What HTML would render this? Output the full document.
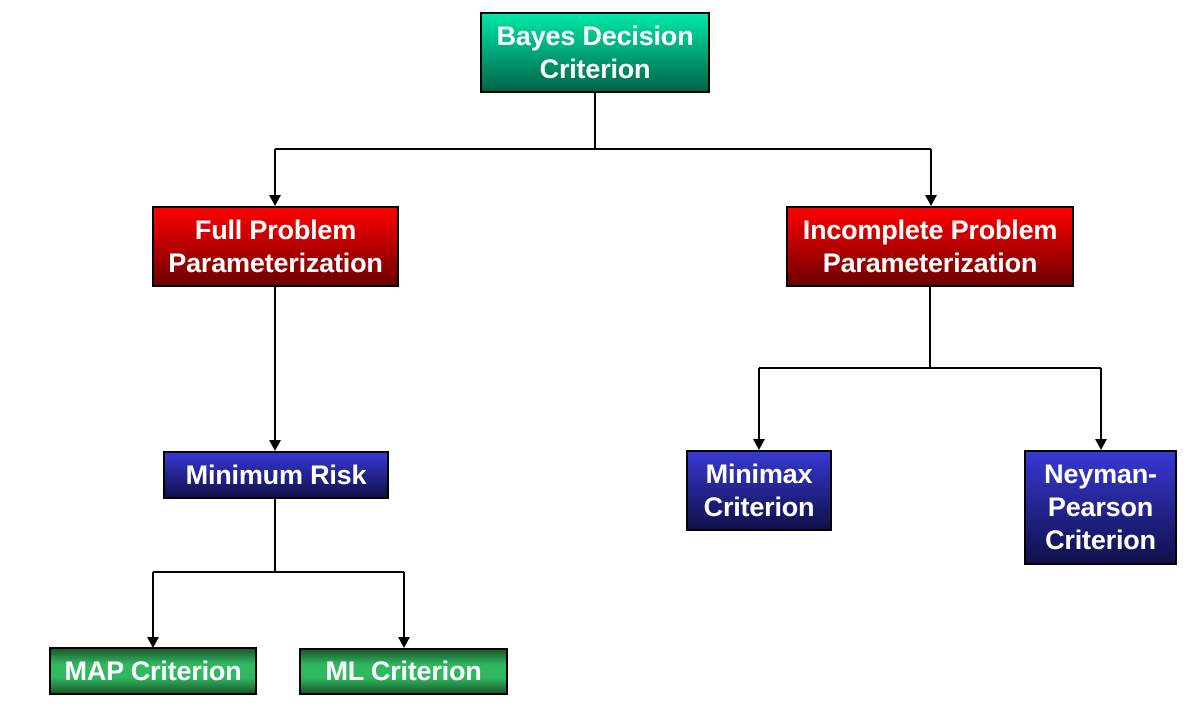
<!DOCTYPE html>
<html><head><style>
body{margin:0;width:1196px;height:707px;background:#fff;position:relative;overflow:hidden;font-family:"Liberation Sans",Arial,sans-serif;}
.b{position:absolute;box-sizing:border-box;border:2px solid #000;color:#fff;font-weight:bold;font-size:27px;line-height:33px;display:flex;align-items:center;justify-content:center;text-align:center;letter-spacing:-0.2px;white-space:nowrap;}
.t{background:linear-gradient(#00e8a8,#006448);}
.r{background:linear-gradient(#ff0000,#6e0000);}
.u{background:linear-gradient(#3838d4,#10104a);}
.g{background:linear-gradient(#1a5a2a,#30b860 35%,#30b860 65%,#1a5a2a);}
svg{position:absolute;left:0;top:0}
</style></head><body>
<svg width="1196" height="707">
<g stroke="#000" stroke-width="2" fill="none">
<path d="M595 92V149M275 149H931M275 149V196M931 149V196"/>
<path d="M275 286V441"/>
<path d="M930 286V368M759 368H1101M759 368V440M1101 368V440"/>
<path d="M275 498V572M153 572H404M153 572V638M404 572V638"/>
</g>
<g fill="#000">
<path d="M269 195h12l-6 11z"/><path d="M925 195h12l-6 11z"/>
<path d="M269 440h12l-6 11z"/>
<path d="M753 439h12l-6 11z"/><path d="M1095 439h12l-6 11z"/>
<path d="M147 637h12l-6 11z"/><path d="M398 637h12l-6 11z"/>
</g>
</svg>
<div class="b t" style="left:480px;top:12px;width:230px;height:81px">Bayes Decision<br>Criterion</div>
<div class="b r" style="left:152px;top:206px;width:247px;height:81px">Full Problem<br>Parameterization</div>
<div class="b r" style="left:786px;top:206px;width:288px;height:81px">Incomplete Problem<br>Parameterization</div>
<div class="b u" style="left:163px;top:451px;width:226px;height:48px">Minimum Risk</div>
<div class="b u" style="left:686px;top:450px;width:146px;height:81px">Minimax<br>Criterion</div>
<div class="b u" style="left:1024px;top:450px;width:153px;height:115px">Neyman-<br>Pearson<br>Criterion</div>
<div class="b g" style="left:49px;top:647px;width:208px;height:48px">MAP Criterion</div>
<div class="b g" style="left:299px;top:648px;width:209px;height:47px">ML Criterion</div>
</body></html>
